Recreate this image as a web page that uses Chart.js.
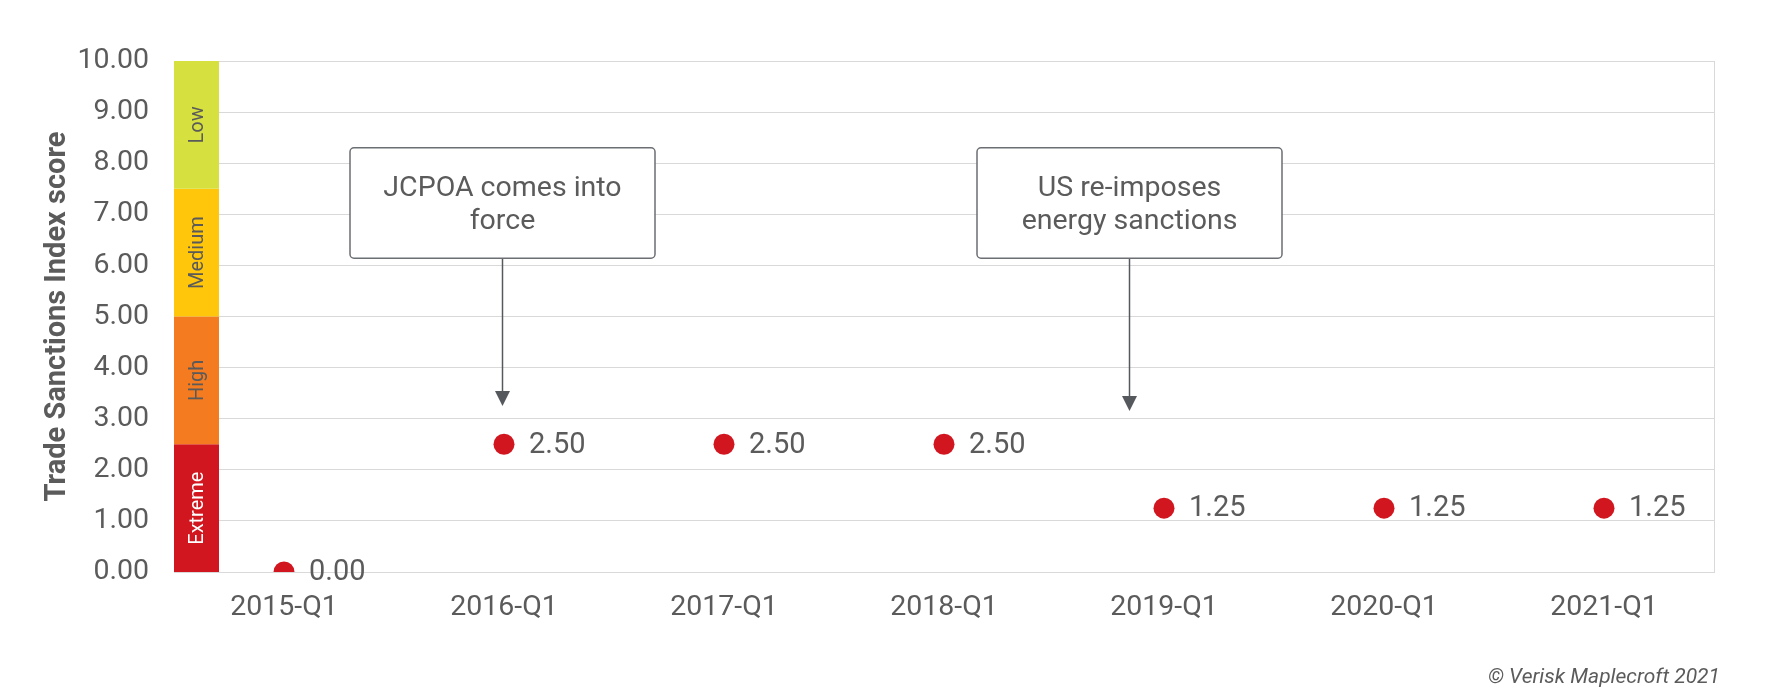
<!DOCTYPE html>
<html>
<head>
<meta charset="utf-8">
<title>Trade Sanctions Index score</title>
<script src="https://cdn.jsdelivr.net/npm/chart.js@4.4.1/dist/chart.umd.min.js"></script>
<style>
  html, body { margin: 0; padding: 0; background: #ffffff; }
  #wrap { width: 1765px; height: 700px; position: relative; }
</style>
</head>
<body>
<div id="wrap"><canvas id="myChart"></canvas></div>
<script>
// chart data
const categories = ["2015-Q1", "2016-Q1", "2017-Q1", "2018-Q1", "2019-Q1", "2020-Q1", "2021-Q1"];
const scores = [0.0, 2.5, 2.5, 2.5, 1.25, 1.25, 1.25];

// risk bands on the y axis
const bandNames = ["Extreme", "High", "Medium", "Low"];
const bandEdges = [0, 2.5, 5, 7.5, 10];
const bandColors = ["#d1161f", "#f47b20", "#ffc60b", "#d6e13f"];
const bandTextColors = ["#ffffff", "#5a5a5a", "#5a5a5a", "#5a5a5a"];

// event call-outs (x is a category index, target is the score the arrow points at)
const eventTexts = [["JCPOA comes into", "force"], ["US re-imposes", "energy sanctions"]];
const eventX = [0.99, 3.84];
const eventTarget = [3.25, 3.15];

const textGrey = "#5b5b5b";
const gridGrey = "#d9d9d9";

Chart.defaults.font.family = "Roboto";

const bandsPlugin = {
  id: "bands",
  beforeDatasetsDraw(chart) {
    const { ctx, chartArea } = chart;
    const y = chart.scales.y;
    const barW = 45;
    ctx.save();
    for (let i = 0; i < bandNames.length; i++) {
      const top = y.getPixelForValue(bandEdges[i + 1]);
      const bottom = y.getPixelForValue(bandEdges[i]);
      ctx.fillStyle = bandColors[i];
      ctx.fillRect(chartArea.left, top, barW, bottom - top);

      ctx.save();
      ctx.translate(chartArea.left + barW / 2, (top + bottom) / 2);
      ctx.rotate(-Math.PI / 2);
      ctx.fillStyle = bandTextColors[i];
      ctx.font = "20px Roboto";
      ctx.textAlign = "center";
      ctx.textBaseline = "middle";
      ctx.fillText(bandNames[i], 0, 1);
      ctx.restore();
    }
    // right border of the plot
    ctx.strokeStyle = gridGrey;
    ctx.lineWidth = 1;
    ctx.beginPath();
    ctx.moveTo(chartArea.right + 0.5, chartArea.top);
    ctx.lineTo(chartArea.right + 0.5, chartArea.bottom);
    ctx.stroke();
    ctx.restore();
  },
};

const labelsPlugin = {
  id: "pointLabels",
  afterDatasetsDraw(chart) {
    const { ctx } = chart;
    const meta = chart.getDatasetMeta(0);
    ctx.save();
    ctx.fillStyle = textGrey;
    ctx.font = "29px Roboto";
    ctx.textAlign = "left";
    ctx.textBaseline = "middle";
    meta.data.forEach((pt, i) => {
      ctx.fillText(scores[i].toFixed(2), pt.x + 25, pt.y + 1);
    });
    ctx.restore();
  },
};

const eventsPlugin = {
  id: "events",
  afterDraw(chart) {
    const { ctx } = chart;
    const x = chart.scales.x;
    const y = chart.scales.y;
    const boxW = 305;
    const boxTop = y.getPixelForValue(8.3);
    const boxBottom = y.getPixelForValue(6.14);
    ctx.save();
    for (let i = 0; i < eventTexts.length; i++) {
      const cx = Math.round(x.getPixelForValue(eventX[i])) + 0.5;
      const left = cx - boxW / 2;

      // arrow
      const tip = y.getPixelForValue(eventTarget[i]);
      ctx.strokeStyle = "#55585c";
      ctx.fillStyle = "#55585c";
      ctx.lineWidth = 1.5;
      ctx.beginPath();
      ctx.moveTo(cx, boxBottom);
      ctx.lineTo(cx, tip - 12);
      ctx.stroke();
      ctx.beginPath();
      ctx.moveTo(cx - 7.5, tip - 15);
      ctx.lineTo(cx + 7.5, tip - 15);
      ctx.lineTo(cx, tip);
      ctx.closePath();
      ctx.fill();

      // box
      ctx.fillStyle = "#ffffff";
      ctx.strokeStyle = "#6b6e72";
      ctx.lineWidth = 1.5;
      ctx.beginPath();
      ctx.roundRect(left, boxTop, boxW, boxBottom - boxTop, 4);
      ctx.fill();
      ctx.stroke();

      // text
      ctx.fillStyle = textGrey;
      ctx.font = "28.5px Roboto";
      ctx.textAlign = "center";
      ctx.textBaseline = "middle";
      const mid = (boxTop + boxBottom) / 2 + 2;
      const lines = eventTexts[i];
      const lh = 33;
      lines.forEach((t, k) => {
        ctx.fillText(t, cx, mid + (k - (lines.length - 1) / 2) * lh);
      });
    }

    // source note
    ctx.fillStyle = textGrey;
    ctx.font = "italic 21px Roboto";
    ctx.textAlign = "right";
    ctx.textBaseline = "alphabetic";
    ctx.fillText("\u00A9 Verisk Maplecroft 2021", chart.width - 45, chart.height - 17);
    ctx.restore();
  },
};

const ctx = document.getElementById("myChart").getContext("2d");
new Chart(ctx, {
  type: "line",
  data: {
    labels: categories,
    datasets: [
      {
        label: "Trade Sanctions Index score",
        data: scores,
        showLine: false,
        pointRadius: 10.5,
        pointHoverRadius: 10.5,
        pointBackgroundColor: "#d1161f",
        pointBorderWidth: 0,
        borderColor: "#d1161f",
      },
    ],
  },
  options: {
    responsive: true,
    maintainAspectRatio: false,
    animation: false,
    layout: { padding: { left: 40, right: 51, top: 61, bottom: 76 } },
    plugins: {
      legend: { display: false },
      tooltip: { enabled: false },
    },
    scales: {
      x: {
        offset: true,
        grid: { display: false, drawTicks: false },
        border: { display: true, color: gridGrey },
        ticks: { color: textGrey, font: { size: 28.5 }, padding: 19, maxRotation: 0 },
        afterFit: (axis) => { axis.height = 52; },
      },
      y: {
        min: 0,
        max: 10,
        grid: { color: gridGrey, drawTicks: false },
        border: { display: false },
        ticks: {
          stepSize: 1,
          color: textGrey,
          font: { size: 28.5 },
          padding: 25,
          callback: (v) => Number(v).toFixed(2),
        },
        title: {
          display: true,
          text: "Trade Sanctions Index score",
          color: textGrey,
          font: { size: 29, weight: "bold" },
          padding: 0,
        },
        afterFit: (axis) => { axis.width = 134; },
      },
    },
  },
  plugins: [bandsPlugin, labelsPlugin, eventsPlugin],
});
</script>
</body>
</html>
